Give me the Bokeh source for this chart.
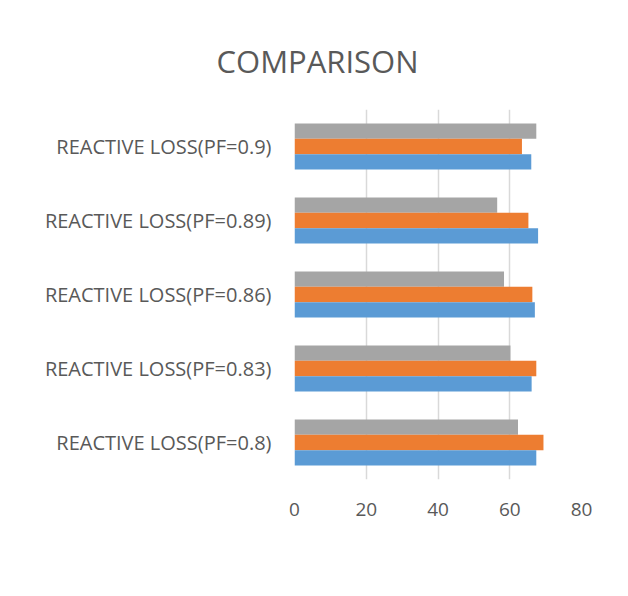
from bokeh.plotting import figure
from bokeh.models import FactorRange, Legend, LegendItem, ColumnDataSource, Title
from bokeh.transform import dodge
from bokeh.embed import file_html
from bokeh.resources import INLINE

categories = ["REACTIVE LOSS(PF=0.8)", "REACTIVE LOSS(PF=0.83)", "REACTIVE LOSS(PF=0.86)",
              "REACTIVE LOSS(PF=0.89)", "REACTIVE LOSS(PF=0.9)"]
mva_27_5 = [62.3, 60.2, 58.4, 56.5, 67.4]
mva_17_5 = [69.4, 67.4, 66.3, 65.2, 63.4]
mva_7_5 = [67.4, 66.1, 67.0, 67.9, 66.0]
series_names = ["27.5MVA", "17.5MVA", "7.5MVA"]
x_ticks = [0, 20, 40, 60, 80]

colors = ["#A5A5A5", "#ED7D31", "#5B9BD5"]
FONT = "Open Sans"
TXT = "#595959"

src = ColumnDataSource(dict(cat=categories, a=mva_27_5, b=mva_17_5, c=mva_7_5))

p = figure(frame_width=287, frame_height=370, output_backend="svg", toolbar_location=None,
           y_range=FactorRange(*categories), x_range=(0, 80),
           min_border_left=294, min_border_right=45, min_border_top=109, min_border_bottom=115)

bw = 0.207
r1 = p.hbar(y=dodge("cat", bw, range=p.y_range), right="a", left=0, height=bw, source=src,
            fill_color=colors[0], line_color=None)
r2 = p.hbar(y=dodge("cat", 0, range=p.y_range), right="b", left=0, height=bw, source=src,
            fill_color=colors[1], line_color=None)
r3 = p.hbar(y=dodge("cat", -bw, range=p.y_range), right="c", left=0, height=bw, source=src,
            fill_color=colors[2], line_color=None)

p.outline_line_color = None
p.ygrid.grid_line_color = None
p.xgrid.grid_line_color = "#D9D9D9"
p.xgrid.grid_line_width = 1.5
p.xaxis.ticker = x_ticks
p.y_range.range_padding = 0

for ax in (p.xaxis[0], p.yaxis[0]):
    ax.axis_line_color = None
    ax.major_tick_line_color = None
    ax.minor_tick_line_color = None
    ax.major_label_text_font = FONT
    ax.major_label_text_color = TXT
p.yaxis.major_label_text_font_size = "20px"
p.xaxis.major_label_text_font_size = "19px"
p.yaxis.major_label_standoff = 17
p.xaxis.major_label_standoff = 17

t = Title(text="COMPARISON", align="left", text_font=FONT, text_font_size="31px",
          text_color=TXT, text_font_style="normal", offset=-78, standoff=56)
p.add_layout(t, "above")

legend = Legend(items=[LegendItem(label=series_names[0], renderers=[r1]),
                       LegendItem(label=series_names[1], renderers=[r2]),
                       LegendItem(label=series_names[2], renderers=[r3])],
                orientation="horizontal", location="center",
                label_text_font=FONT, label_text_color=TXT, label_text_font_size="18px",
                glyph_width=12, glyph_height=12, spacing=39, label_standoff=8,
                padding=0, margin=0, border_line_color=None, background_fill_alpha=0)
p.add_layout(legend, "below")

open("out.html", "w").write(file_html(p, INLINE))
